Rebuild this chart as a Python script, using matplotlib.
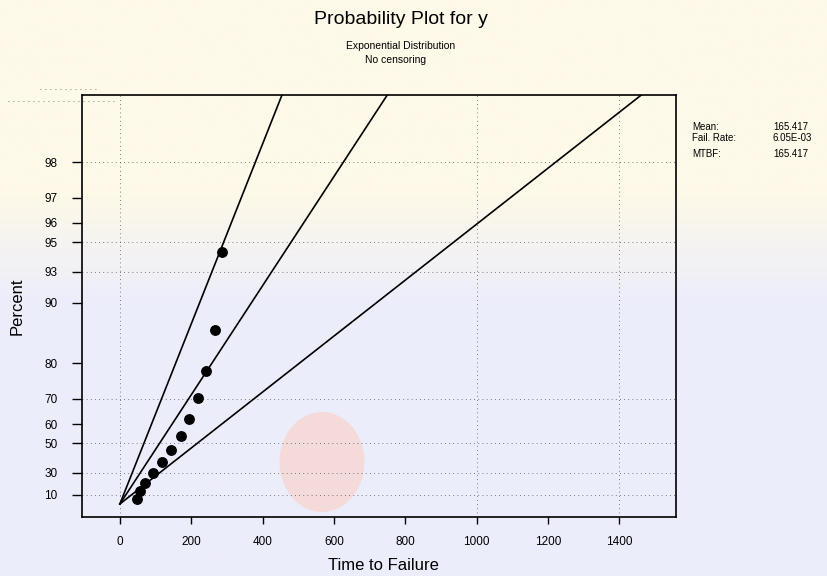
import numpy as np
import matplotlib
matplotlib.use("Agg")
import matplotlib.pyplot as plt
from matplotlib.patches import Ellipse

plt.rcParams["font.family"] = ["Liberation Sans", "DejaVu Sans"]

# data (exponential probability plot, 12 failures)
time_to_failure = [48, 57, 71, 93, 117, 142, 171, 194, 218, 241, 266, 285]
percent = [5.6, 13.7, 21.8, 29.8, 37.9, 46.0, 54.0, 62.1, 70.2, 78.2, 86.3, 94.4]

# scale (mean) of the fitted line and the two confidence bounds, as drawn
fit_mean = 160
lower_mean = 97
upper_mean = 312

y_tick_percent = [10, 30, 50, 60, 70, 80, 90, 93, 95, 96, 97, 98]
y_grid_percent = [10, 30, 50, 70, 93, 95, 98]
x_ticks = [0, 200, 400, 600, 800, 1000, 1200, 1400]
x_grid = [0, 1000, 1400]

stat_names = ["Mean:", "Fail. Rate:", "MTBF:"]
stat_values = ["165.417", "6.05E-03", "165.417"]


def to_t(p):
    """percent -> exponential probability scale, -ln(1 - p)"""
    return -np.log(1 - np.asarray(p) / 100.0)


W, H = 828, 576
fig = plt.figure(figsize=(W / 100, H / 100), dpi=100)

# faint watermark-like background (cream at the top, pale lavender below)
bg = fig.add_axes([0, 0, 1, 1], zorder=-5)
rows = np.linspace(0, 1, 200)[:, None]
cream = np.array([254, 249, 232]) / 255
lav = np.array([236, 237, 251]) / 255
mix = np.clip((rows - 0.33) / 0.2, 0, 1)[..., None]
img = cream * (1 - mix) + lav * mix
img = np.repeat(img, 2, axis=1)
bg.imshow(img, aspect="auto", extent=[0, 1, 0, 1], origin="upper", interpolation="bilinear")
bg.add_patch(Ellipse((322 / W, 1 - 462 / H), 85 / W, 100 / H,
                     color=(248 / 255, 214 / 255, 208 / 255), alpha=0.75, lw=0))
bg.set_xlim(0, 1)
bg.set_ylim(0, 1)
bg.axis("off")

ax = fig.add_axes([81.7 / W, 1 - 517 / H, (676 - 81.7) / W, (517 - 95) / H])
ax.patch.set_alpha(0)
ax.set_xlim(-107, 1559)
ax.set_ylim(-0.149, 4.685)

for p in y_grid_percent:
    ax.axhline(to_t(p), color="#555555", lw=0.6, ls=(0, (1, 4)), zorder=1)
for x in x_grid:
    ax.axvline(x, color="#555555", lw=0.6, ls=(0, (1, 4)), zorder=1)
# stray dotted rows near the top-left corner of the reference
for y, x0, x1 in [(89, 40, 100), (101, 8, 115)]:
    fig.add_artist(plt.Line2D([x0 / W, x1 / W], [1 - y / H, 1 - y / H], color="#555555",
                              lw=0.6, ls=(0, (1, 5))))

xs = np.array([0, 1600])
for m in (lower_mean, fit_mean, upper_mean):
    ax.plot(xs, xs / m, color="black", lw=1.2, zorder=3)

ax.plot(time_to_failure, to_t(percent), "o", color="black", ms=6.8, zorder=4)

ax.set_xticks(x_ticks)
ax.set_xticklabels([str(v) for v in x_ticks], fontsize=8.5)
ax.set_yticks(to_t(y_tick_percent))
ax.set_yticklabels([str(v) for v in y_tick_percent], fontsize=8.5)
ax.tick_params(axis="x", direction="out", length=5, width=1, pad=9)
ax.tick_params(axis="y", direction="out", length=7.5, width=1, pad=10)
for s in ax.spines.values():
    s.set_linewidth(1.2)

fig.text(17 / W, 1 - 306 / H, "Percent", rotation=90, ha="center", va="center", fontsize=12)
fig.text(383 / W, 1 - 566 / H, "Time to Failure", ha="center", va="center", fontsize=12)

fig.text(401 / W, 1 - 20 / H, "Probability Plot for y", ha="center", va="center", fontsize=14)
fig.text(401 / W, 1 - 46 / H, "Exponential Distribution", ha="center", va="center", fontsize=7.5)
fig.text(396 / W, 1 - 60 / H, "No censoring", ha="center", va="center", fontsize=7.5)

stat_y = [127, 138, 154]
for name, val, y in zip(stat_names, stat_values, stat_y):
    fig.text(692 / W, 1 - y / H, name, ha="left", va="center", fontsize=7)
    fig.text(773 / W, 1 - y / H, val, ha="left", va="center", fontsize=7)

fig.savefig("out.png", dpi=100)
